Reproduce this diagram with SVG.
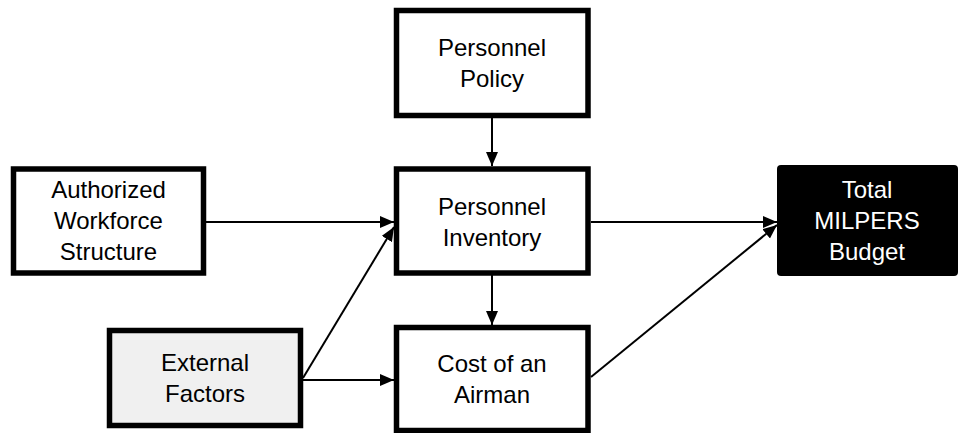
<svg xmlns="http://www.w3.org/2000/svg" width="962" height="433" viewBox="0 0 962 433">
<defs>
<style>
.box{stroke:#000;stroke-width:5.5;fill:#fff}
.t{font-family:"Liberation Sans",Arial,sans-serif;font-size:24px;fill:#000;text-anchor:middle}
.w{fill:#fff}
.c{stroke:#000;stroke-width:2;fill:none;marker-end:url(#ah)}
</style>
<marker id="ah" markerUnits="userSpaceOnUse" markerWidth="15" markerHeight="13" refX="14" refY="6" orient="auto">
<path d="M0,0 L14,6 L0,12 z" fill="#000"/>
</marker>
</defs>
<rect width="962" height="433" fill="#fff"/>
<g id="connectors">
<line class="c" x1="492" y1="118" x2="492" y2="166"/>
<line class="c" x1="206" y1="222" x2="394" y2="222"/>
<line class="c" x1="303" y1="378" x2="394" y2="227"/>
<line class="c" x1="303" y1="380" x2="394" y2="380"/>
<line class="c" x1="492" y1="275" x2="492" y2="325"/>
<line class="c" x1="591" y1="222" x2="777" y2="222"/>
<line class="c" x1="591" y1="377" x2="777" y2="225"/>
</g>
<g id="personnel-policy">
<rect class="box" x="396.5" y="10.5" width="191.5" height="105"/>
<text class="t" x="492" y="56">Personnel</text>
<text class="t" x="492" y="87">Policy</text>
</g>
<g id="authorized-workforce">
<rect class="box" x="13.5" y="169" width="190" height="104"/>
<text class="t" x="108.5" y="198">Authorized</text>
<text class="t" x="108.5" y="229">Workforce</text>
<text class="t" x="108.5" y="260">Structure</text>
</g>
<g id="personnel-inventory">
<rect class="box" x="396.5" y="169" width="191.5" height="104"/>
<text class="t" x="492" y="215">Personnel</text>
<text class="t" x="492" y="246">Inventory</text>
</g>
<g id="total-milpers">
<rect x="777" y="165" width="181" height="111" rx="4" fill="#000"/>
<text class="t w" x="867" y="198">Total</text>
<text class="t w" x="867" y="229">MILPERS</text>
<text class="t w" x="867" y="260">Budget</text>
</g>
<g id="external-factors">
<rect class="box" x="109.5" y="330.5" width="191" height="95" style="fill:#f0f0f0"/>
<text class="t" x="205" y="371">External</text>
<text class="t" x="205" y="402">Factors</text>
</g>
<g id="cost-airman">
<rect class="box" x="396.5" y="327.5" width="191.5" height="103"/>
<text class="t" x="492" y="372">Cost of an</text>
<text class="t" x="492" y="403">Airman</text>
</g>
</svg>
